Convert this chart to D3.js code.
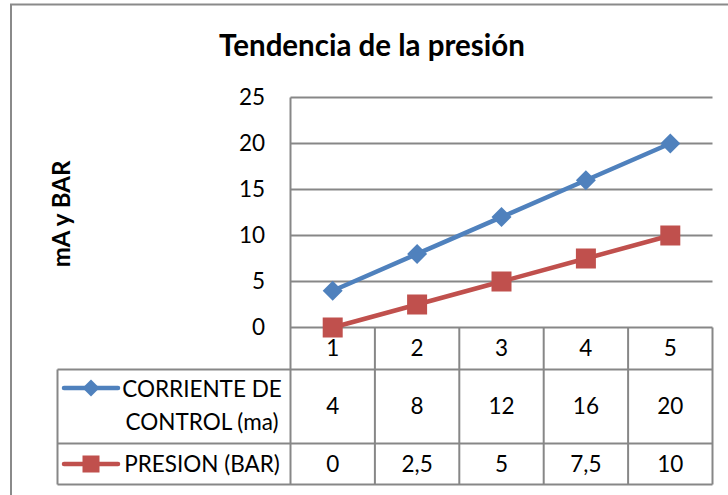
<!DOCTYPE html>
<html>
<head>
<meta charset="utf-8">
<script src="https://cdn.jsdelivr.net/npm/d3@7"></script>
<style>
  html, body { margin: 0; padding: 0; background: #fff; }
  svg { display: block; font-family: Lato, "Open Sans", sans-serif; }
</style>
</head>
<body>
<svg id="chart" width="728" height="495"></svg>
<script>
// Data
const categories = ["1", "2", "3", "4", "5"];
const corriente = [4, 8, 12, 16, 20];
const presion = [0, 2.5, 5, 7.5, 10];
const corrienteLabels = ["4", "8", "12", "16", "20"];
const presionLabels = ["0", "2,5", "5", "7,5", "10"];
const yTicks = [0, 5, 10, 15, 20, 25];

const series = [
  { name: ["CORRIENTE DE", "CONTROL (ma)"], values: corriente, labels: corrienteLabels, color: "#4F81BD", marker: "diamond" },
  { name: ["PRESION (BAR)"], values: presion, labels: presionLabels, color: "#C0504D", marker: "square" }
];

const svg = d3.select("#chart");
const grid = "#878787";

// Chart frame
svg.append("rect")
  .attr("x", 11).attr("y", 4.5).attr("width", 760).attr("height", 520)
  .attr("fill", "#fff").attr("stroke", "#8a8a8a").attr("stroke-width", 2);

// Title
svg.append("text")
  .attr("x", 372).attr("y", 56)
  .attr("text-anchor", "middle")
  .attr("font-weight", "bold").attr("font-size", 29.5)
  .text("Tendencia de la presión");

// Axis title
svg.append("text")
  .attr("transform", "translate(70,214) rotate(-90)")
  .attr("text-anchor", "middle")
  .attr("font-weight", "bold").attr("font-size", 24)
  .text("mA y BAR");

// Scales
const plotLeft = 290.5, plotRight = 712.5;
const y = d3.scaleLinear().domain([0, 25]).range([327.5, 97.5]);
const x = d3.scaleBand().domain(categories).range([plotLeft, plotRight]);

// Table row boundaries
const rowTop = y(0), row1 = 369.5, row2 = 443.5, rowBottom = 484.5;
const tableLeft = 57.5;

// Horizontal gridlines
svg.append("g")
  .selectAll("line").data(yTicks).join("line")
  .attr("x1", plotLeft).attr("x2", plotRight)
  .attr("y1", d => y(d)).attr("y2", d => y(d))
  .attr("stroke", grid).attr("stroke-width", 2);

// Value axis tick labels
svg.append("g")
  .selectAll("text").data(yTicks).join("text")
  .attr("x", 265).attr("y", d => y(d))
  .attr("dy", "0.35em")
  .attr("text-anchor", "end")
  .attr("font-size", 22.5)
  .text(d => d);

// Value axis line
svg.append("line")
  .attr("x1", plotLeft).attr("x2", plotLeft)
  .attr("y1", y(25)).attr("y2", rowBottom)
  .attr("stroke", grid).attr("stroke-width", 2);

// Data table grid
const tbl = svg.append("g").attr("stroke", grid).attr("stroke-width", 2);
[row1, row2, rowBottom].forEach(ry => {
  tbl.append("line").attr("x1", tableLeft).attr("x2", plotRight).attr("y1", ry).attr("y2", ry);
});
tbl.append("line").attr("x1", tableLeft).attr("x2", tableLeft).attr("y1", row1).attr("y2", rowBottom);
categories.forEach(c => {
  const xr = x(c) + x.bandwidth();
  tbl.append("line").attr("x1", xr).attr("x2", xr).attr("y1", rowTop).attr("y2", rowBottom);
});

// Category labels
svg.append("g")
  .selectAll("text").data(categories).join("text")
  .attr("x", d => x(d) + x.bandwidth() / 2).attr("y", (rowTop + row1) / 2)
  .attr("dy", "0.35em").attr("text-anchor", "middle")
  .attr("font-size", 22.5)
  .text(d => d);

// Table values
const rowCenters = [(row1 + row2) / 2, (row2 + rowBottom) / 2];
series.forEach((s, i) => {
  svg.append("g")
    .selectAll("text").data(s.labels).join("text")
    .attr("x", (d, j) => x(categories[j]) + x.bandwidth() / 2)
    .attr("y", rowCenters[i])
    .attr("dy", "0.35em").attr("text-anchor", "middle")
    .attr("font-size", 22.5)
    .text(d => d);
});

// Marker drawing
function drawMarker(g, type, cx, cy, color, size) {
  if (type === "diamond") {
    const h = size / 2;
    g.append("path")
      .attr("d", `M${cx},${cy - h}L${cx + h},${cy}L${cx},${cy + h}L${cx - h},${cy}Z`)
      .attr("fill", color);
  } else {
    g.append("rect")
      .attr("x", cx - size / 2).attr("y", cy - size / 2)
      .attr("width", size).attr("height", size)
      .attr("fill", color);
  }
}

// Series lines and markers
const line = d3.line()
  .x((d, j) => x(categories[j]) + x.bandwidth() / 2)
  .y(d => y(d));

series.forEach(s => {
  const g = svg.append("g");
  g.append("path")
    .datum(s.values)
    .attr("d", line)
    .attr("fill", "none")
    .attr("stroke", s.color)
    .attr("stroke-width", 4.5)
    .attr("stroke-linejoin", "round");
  s.values.forEach((v, j) => {
    drawMarker(g, s.marker, x(categories[j]) + x.bandwidth() / 2, y(v), s.color, 20);
  });
});

// Legend keys and names in the table
const legendKeyY = [388, (row2 + rowBottom) / 2];
series.forEach((s, i) => {
  const g = svg.append("g");
  g.append("line")
    .attr("x1", 64).attr("x2", 118)
    .attr("y1", legendKeyY[i]).attr("y2", legendKeyY[i])
    .attr("stroke", s.color).attr("stroke-width", 4.5).attr("stroke-linecap", "round");
  drawMarker(g, s.marker, 91, legendKeyY[i], s.color, 17);
  const t = g.append("text")
    .attr("text-anchor", "middle")
    .attr("font-size", 22.5);
  const cx = 202;
  if (s.name.length === 2) {
    t.append("tspan").attr("x", cx).attr("y", 397).text(s.name[0]);
    t.append("tspan").attr("x", cx).attr("y", 430).text(s.name[1]);
  } else {
    t.append("tspan").attr("x", cx).attr("y", rowCenters[i]).attr("dy", "0.35em").text(s.name[0]);
  }
});
</script>
</body>
</html>
